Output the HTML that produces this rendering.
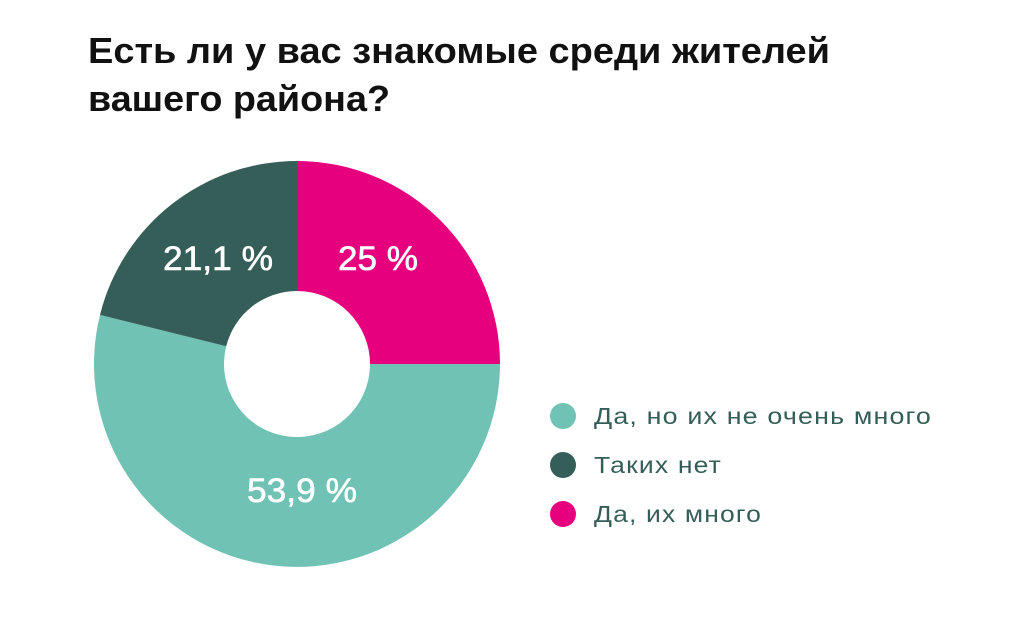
<!DOCTYPE html>
<html><head><meta charset="utf-8"><style>
body{margin:0;width:1018px;height:616px;background:#fff;overflow:hidden}
</style></head><body>
<svg width="1018" height="616" xmlns="http://www.w3.org/2000/svg" font-family="Liberation Sans, DejaVu Sans, sans-serif">
<text x="88" y="63" font-size="36" font-weight="bold" fill="#111" textLength="742" lengthAdjust="spacingAndGlyphs">Есть ли у вас знакомые среди жителей</text>
<text x="88" y="111" font-size="36" font-weight="bold" fill="#111" textLength="302" lengthAdjust="spacingAndGlyphs">вашего района?</text>
<path d="M297,161 A203,203 0 0 1 500,364 L370,364 A73,73 0 0 0 297,291 Z" fill="#e6007e"/>
<path d="M500,364 A203,203 0 1 1 100,314.9 L226.2,346.3 A73,73 0 1 0 370,364 Z" fill="#70c2b4"/>
<path d="M100,314.9 A203,203 0 0 1 297,161 L297,291 A73,73 0 0 0 226.2,346.3 Z" fill="#365e58"/>
<g fill="#fff" font-size="34" stroke="#fff" stroke-width="0.6">
<text x="338" y="270" textLength="80" lengthAdjust="spacingAndGlyphs">25 %</text>
<text x="163" y="270" textLength="110" lengthAdjust="spacingAndGlyphs">21,1 %</text>
<text x="247" y="502" textLength="110" lengthAdjust="spacingAndGlyphs">53,9 %</text>
</g>
<circle cx="563" cy="416" r="13" fill="#70c2b4"/>
<circle cx="563" cy="465" r="13" fill="#365e58"/>
<circle cx="563" cy="514" r="13" fill="#e6007e"/>
<g fill="#365e58" font-size="23" letter-spacing="1">
<text x="594" y="424" textLength="338" lengthAdjust="spacingAndGlyphs">Да, но их не очень много</text>
<text x="594" y="473" textLength="128" lengthAdjust="spacingAndGlyphs">Таких нет</text>
<text x="594" y="522" textLength="168" lengthAdjust="spacingAndGlyphs">Да, их много</text>
</g>
</svg>
</body></html>
